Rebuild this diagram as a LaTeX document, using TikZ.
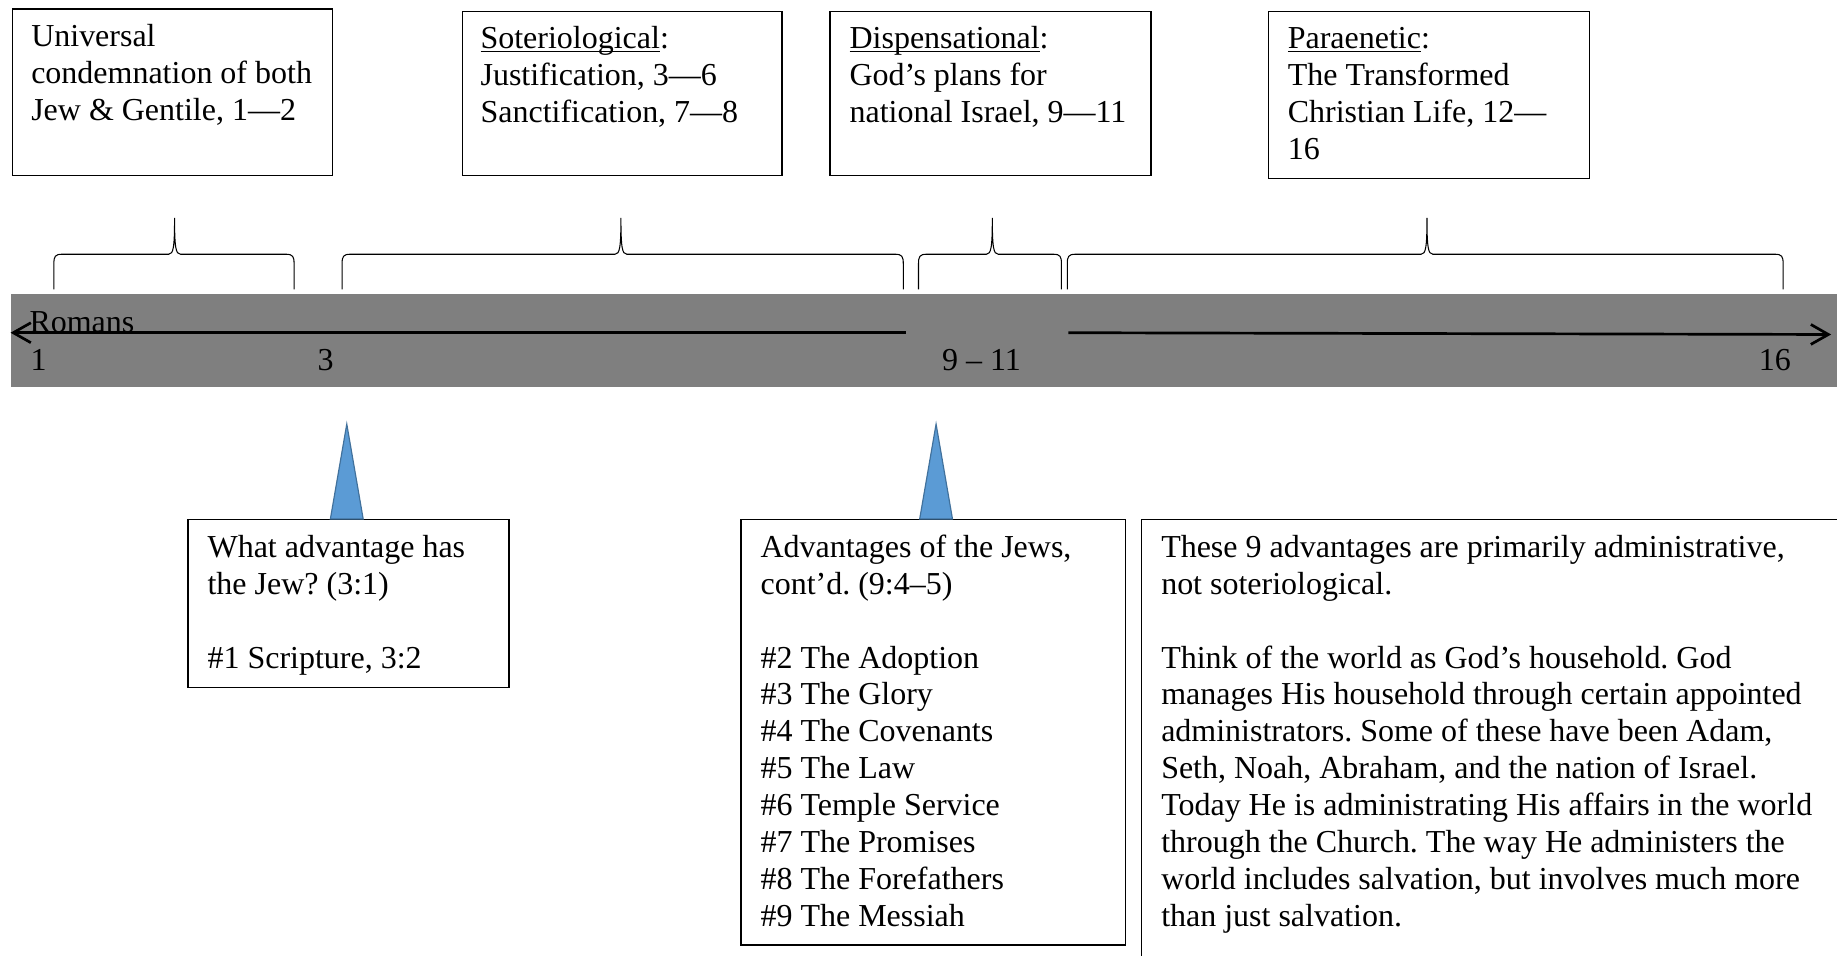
\documentclass[tikz,border=0pt]{standalone}
\usepackage{fontspec}
\setmainfont{Liberation Serif}
\usetikzlibrary{arrows.meta}
\definecolor{bandgray}{HTML}{7F7F7F}
\definecolor{trifill}{HTML}{5B9BD5}
\definecolor{tridraw}{HTML}{41719C}
\newcommand\myul[1]{\leavevmode\setbox0=\hbox{#1}\rlap{\rule[-3pt]{\wd0}{1.3pt}}\box0}
\newcommand\fl{\rule{0pt}{22pt}}
\newcommand\mybrace[3]{%
  \draw[bracestyle] (#1,247) -- (#1,225) .. controls (#1,219) and (#1+1,217) .. (#1+7,217)
    -- (#2-5,217) .. controls (#2-1,217) and (#2,211) .. (#2,186)
    .. controls (#2,211) and (#2+1,217) .. (#2+5,217)
    -- (#3-7,217) .. controls (#3-1,217) and (#3,219) .. (#3,225) -- (#3,247);}
\frenchspacing
\begin{document}
\begin{tikzpicture}[x=1pt,y=-1pt,
  txt/.style={anchor=north west, inner sep=0pt, align=left, font=\fontsize{27.3}{31.5}\selectfont\frenchspacing},
  lbl/.style={anchor=base west, inner sep=0pt, font=\fontsize{27.3}{31.5}\selectfont},
  frame/.style={draw=black, line width=1.15pt, anchor=north west, inner sep=0pt},
  bracestyle/.style={draw=black, line width=0.9pt},
  tl/.style={draw=black, line width=2.3pt, -{Straight Barb[length=15pt,width=17pt]}},
  tri/.style={fill=trifill, draw=tridraw, line width=1pt, line join=miter}]
\useasboundingbox (0,0) rectangle (1568,816);
\clip (0,0) rectangle (1568,816);
\fill[white] (0,0) rectangle (1568,816);

% top boxes
\node[frame, minimum width=273pt, minimum height=142pt] (b1) at (10,7) {};
\node[txt] (t1) at (26.5,17.5) {\fl Universal\\condemnation of both\\Jew \& Gentile, 1—2};
\node[frame, minimum width=273pt, minimum height=140pt] (b2) at (394,9) {};
\node[txt] (t2) at (410,19.5) {\fl\myul{Soteriological}:\\Justification, 3—6\\Sanctification, 7—8};
\node[frame, minimum width=274pt, minimum height=140pt] (b3) at (708,9) {};
\node[txt] (t3) at (725,19.5) {\fl\myul{Dispensational}:\\God’s plans for\\national Israel, 9—11};
\node[frame, minimum width=274pt, minimum height=143pt] (b4) at (1082,9) {};
\node[txt] (t4) at (1099,19.5) {\fl\myul{Paraenetic}:\\The Transformed\\Christian Life, 12—\\16};

% braces
\mybrace{46}{149}{251}
\mybrace{292}{530}{771}
\mybrace{784}{847}{906}
\mybrace{911}{1218}{1522}

% timeline band
\node[fill=bandgray, inner sep=0pt, minimum width=1570pt, minimum height=79pt, anchor=north west] (band) at (9,251) {};
\coordinate (la1) at (773,284);
\coordinate (la0) at (9,284);
\coordinate (ra0) at (912,284);
\coordinate (ra1) at (1563,285.5);
\draw[tl] (la1) -- (la0);
\draw[tl] (ra0) -- (ra1);
\node[lbl] (romans) at (25,284) {Romans};
\node[lbl] (n1) at (26,316) {1};
\node[lbl] (n3) at (271,316) {3};
\node[lbl] (n911) at (804,316) {9 – 11};
\node[lbl] (n16) at (1501,316) {16};

% bottom boxes
\node[frame, minimum width=274pt, minimum height=143pt] (b5) at (160,443) {};
\node[txt] (t5) at (177,453.5) {\fl What advantage has\\the Jew? (3:1)\\[31.5pt]\#1 Scripture, 3:2};
\node[frame, minimum width=328pt, minimum height=363pt] (b6) at (632,443) {};
\node[txt] (t6) at (649,453.5) {\fl Advantages of the Jews,\\cont’d. (9:4–5)\\[31.5pt]\#2 The Adoption\\\#3 The Glory\\\#4 The Covenants\\\#5 The Law\\\#6 Temple Service\\\#7 The Promises\\\#8 The Forefathers\\\#9 The Messiah};
\node[frame, minimum width=700pt, minimum height=500pt] (b7) at (974,443) {};
\node[txt] (t7) at (991,453.5) {\fl These 9 advantages are primarily administrative,\\not soteriological.\\[31.5pt]Think of the world as God’s household. God\\manages His household through certain appointed\\administrators. Some of these have been Adam,\\Seth, Noah, Abraham, and the nation of Israel.\\Today He is administrating His affairs in the world\\through the Church. The way He administers the\\world includes salvation, but involves much more\\than just salvation.};

% pointers
\coordinate (p1a) at (296,362);
\coordinate (p1l) at (282,443);
\coordinate (p1r) at (310,443);
\draw[tri] (p1a) -- (p1r) -- (p1l) -- cycle;
\coordinate (p2a) at (799,362);
\coordinate (p2l) at (785,443);
\coordinate (p2r) at (813,443);
\draw[tri] (p2a) -- (p2r) -- (p2l) -- cycle;
\end{tikzpicture}
\end{document}
